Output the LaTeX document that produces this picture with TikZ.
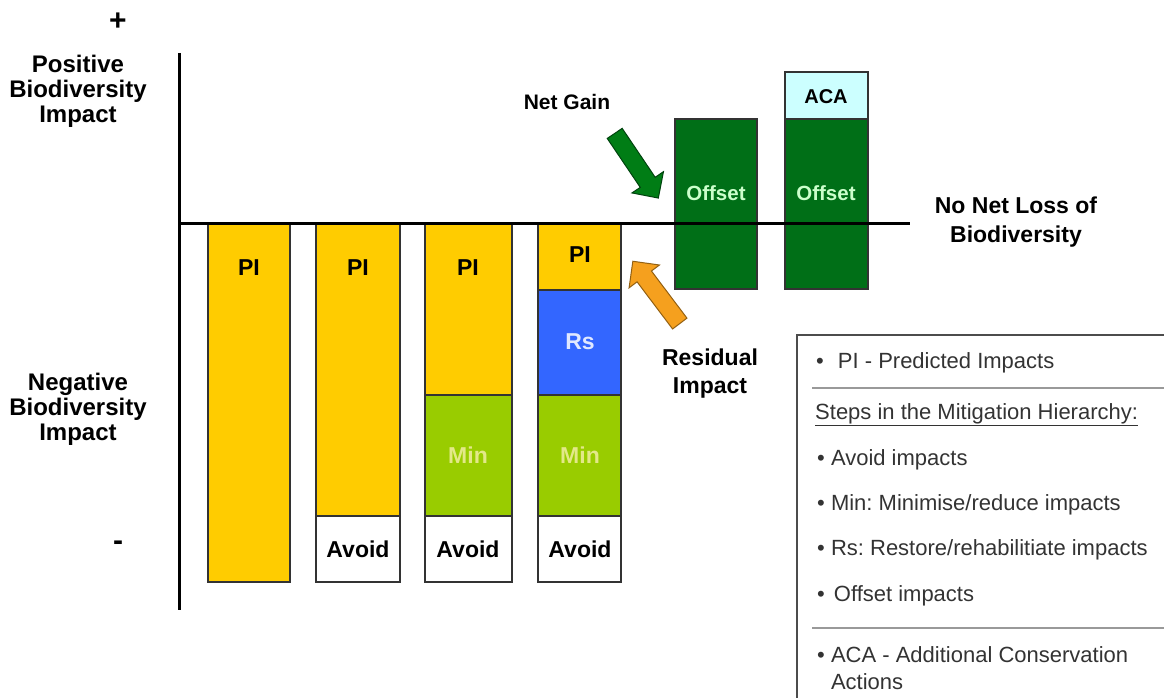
\documentclass[tikz,border=0pt]{standalone}
\usepackage{fontspec}
\setmainfont{Liberation Sans}
\usetikzlibrary{shapes.arrows}
\frenchspacing

\definecolor{piyellow}{HTML}{FFCC00}
\definecolor{mingreen}{HTML}{99CC00}
\definecolor{rsblue}{HTML}{3366FF}
\definecolor{offgreen}{HTML}{006F17}
\definecolor{acacyan}{HTML}{CCFFFF}
\definecolor{resorange}{HTML}{F5A01E}
\definecolor{legendgray}{HTML}{333333}

\begin{document}
\begin{tikzpicture}[x=1pt, y=-1pt,
  seg/.style={draw=black!80, line width=1.5pt},
  axis/.style={line width=3pt},
  barlabel/.style={font=\fontsize{23}{26}\selectfont\bfseries},
  sidelabel/.style={align=center, font=\fontsize{24}{25}\selectfont\bfseries},
  legtext/.style={anchor=west, inner sep=0, align=left, text=legendgray, font=\fontsize{22}{27}\selectfont},
  blockarrow/.style={single arrow, line width=1pt, inner sep=8.5pt, minimum width=37pt, minimum height=78pt, single arrow head extend=10pt, single arrow head indent=0pt}]

\useasboundingbox (0,0) rectangle (1164,698);

% bars below the line
\draw[seg, fill=piyellow] (208,223) rectangle (290,582);

\draw[seg, fill=piyellow] (316,223) rectangle (400,516);
\draw[seg, fill=white] (316,516) rectangle (400,582);

\draw[seg, fill=piyellow] (425,223) rectangle (512,395);
\draw[seg, fill=mingreen] (425,395) rectangle (512,516);
\draw[seg, fill=white] (425,516) rectangle (512,582);

\draw[seg, fill=piyellow] (538,223) rectangle (621,290);
\draw[seg, fill=rsblue] (538,290) rectangle (621,395);
\draw[seg, fill=mingreen] (538,395) rectangle (621,516);
\draw[seg, fill=white] (538,516) rectangle (621,582);

% offset bars
\draw[seg, fill=offgreen] (675,119) rectangle (757,289);
\draw[seg, fill=acacyan] (785,72) rectangle (868,119);
\draw[seg, fill=offgreen] (785,119) rectangle (868,289);

% axes
\draw[axis] (179,53) -- (179,610);
\draw[axis] (179,223) -- (910,223);

\node[barlabel] (pi1) at (249,268) {PI};
\node[barlabel] (pi2) at (358,268) {PI};
\node[barlabel] (pi3) at (468,268) {PI};
\node[barlabel] (pi4) at (580,255) {PI};
\node[barlabel, text=white!85!rsblue] (rs4) at (580,342) {Rs};
\node[barlabel, text=yellow!40!mingreen!50!white] (min3) at (468,455) {Min};
\node[barlabel, text=yellow!40!mingreen!50!white] (min4) at (580,455) {Min};
\node[barlabel] (avoid2) at (358,549) {Avoid};
\node[barlabel] (avoid3) at (468,549) {Avoid};
\node[barlabel] (avoid4) at (580,549) {Avoid};
\node[barlabel, font=\fontsize{20.5}{22}\selectfont\bfseries, text=green!20!white] (off5) at (716,193) {Offset};
\node[barlabel, font=\fontsize{20.5}{22}\selectfont\bfseries, text=green!20!white] (off6) at (826,193) {Offset};
\node[barlabel, font=\fontsize{20}{22}\selectfont\bfseries] (aca6) at (826,97) {ACA};

% side texts
\node[sidelabel, font=\fontsize{30}{30}\selectfont\bfseries] (plus) at (118,22) {+};
\node[sidelabel] (pos) at (78,91) {Positive\\Biodiversity\\Impact};
\node[sidelabel] (neg) at (78,409) {Negative\\Biodiversity\\Impact};
\node[sidelabel, font=\fontsize{30}{30}\selectfont\bfseries] (minus) at (118,546) {-};
\node[sidelabel, font=\fontsize{21}{24}\selectfont\bfseries] (gain) at (567,102) {Net Gain};
\node[sidelabel, font=\fontsize{23}{29}\selectfont\bfseries] (nnl) at (1016,222) {No Net Loss of\\Biodiversity};
\node[sidelabel, font=\fontsize{23}{28}\selectfont\bfseries] (resid) at (710,374) {Residual\\Impact};

% block arrows
\node[blockarrow, draw=offgreen!60!black, fill=offgreen!90!green, rotate=-56] (gainarrow) at (634,162) {};
\node[blockarrow, draw=resorange!60!black, fill=resorange, rotate=127] (residarrow) at (659,296) {};

% legend
\draw[line width=1.5pt, draw=black!70] (1164,335) -- (797,335) -- (797,698);
\draw[line width=2pt, draw=black!40] (812,388) -- (1164,388);
\draw[line width=2pt, draw=black!40] (812,628) -- (1164,628);

\node[legtext] (legpi) at (816,363) {•\hspace{14pt}PI - Predicted Impacts};
\node[legtext] (legsteps) at (815,415) {\underline{Steps in the Mitigation Hierarchy:}};
\node[legtext] (legavoid) at (817,460) {• Avoid impacts};
\node[legtext] (legmin) at (817,505) {• Min: Minimise/reduce impacts};
\node[legtext] (legrs) at (817,550) {• Rs: Restore/rehabilitiate impacts};
\node[legtext] (legoff) at (817,596) {•\hspace{9pt}Offset impacts};
\node[legtext] (legaca) at (817,668) {• ACA - Additional Conservation\\\phantom{• }Actions};

\end{tikzpicture}
\end{document}
